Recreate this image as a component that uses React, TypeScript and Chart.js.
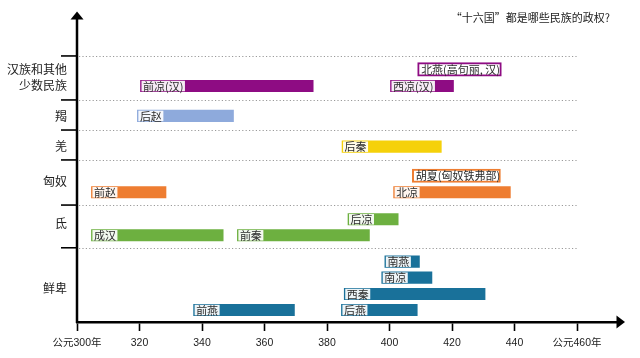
import React, { useEffect, useRef } from "react";
import { Chart, registerables } from "chart.js";

Chart.register(...registerables);

// ---- data ----
const titleText = "“十六国”都是哪些民族的政权?";
const groupNames = ["汉族和其他\n少数民族", "羯", "羌", "匈奴", "氐", "鲜卑"];
const groupLabelPos = [15.28, 12.88, 10.97, 8.77, 6.17, 2.11];
const groupBoundaries = [16.63, 13.88, 12.0, 10.13, 7.31, 4.64];
const groupColors = ["#8E0C83", "#8EAADC", "#F5D10A", "#EE7D31", "#6DB040", "#19719A"];

const stateNames = [
  "北燕(高句丽, 汉)", "前凉(汉)", "西凉(汉)", "后赵", "后秦", "胡夏(匈奴铁弗部)",
  "前赵", "北凉", "后凉", "成汉", "前秦", "南燕", "南凉", "西秦", "后燕", "前燕",
];
const stateStart = [409, 320, 400, 319, 384.5, 407.3, 304.3, 401, 386.4, 304.3, 351, 398.2, 397.2, 385.2, 384.3, 337];
const stateEnd = [435.8, 375.9, 420.8, 350.4, 416.9, 435.5, 328.8, 439, 403.1, 347.1, 393.9, 409.9, 413.9, 430.9, 409.2, 369.9];
const stateLane = [15.79, 14.75, 14.75, 12.88, 10.96, 9.14, 8.11, 8.11, 6.42, 5.42, 5.42, 3.77, 2.77, 1.75, 0.75, 0.75];
const stateGroup = [0, 0, 0, 1, 2, 3, 3, 3, 4, 4, 4, 5, 5, 5, 5, 5];
const outlinedStates = [0, 5];

const xTickValues = [300, 320, 340, 360, 380, 400, 420, 440, 460];
const xTickLabels = ["公元300年", "320", "340", "360", "380", "400", "420", "440", "公元460年"];

const CJK = '"Noto Sans CJK SC", "Liberation Sans", sans-serif';
const NUMF = '"Liberation Sans", "Noto Sans CJK SC", sans-serif';

const decorPlugin = {
  id: "decor",
  beforeDatasetsDraw(chart: any) {
    const { ctx, chartArea } = chart;
    const xs = chart.scales.x;
    const ys = chart.scales.y;
    ctx.save();
    ctx.strokeStyle = "#9a9a9a";
    ctx.lineWidth = 1;
    ctx.setLineDash([1.2, 2.2]);
    const xEnd = xs.getPixelForValue(xTickValues[xTickValues.length - 1]);
    groupBoundaries.forEach((b) => {
      const y = Math.round(ys.getPixelForValue(b)) + 0.5;
      ctx.beginPath();
      ctx.moveTo(chartArea.left + 2, y);
      ctx.lineTo(xEnd, y);
      ctx.stroke();
    });
    ctx.restore();
  },
  afterDatasetsDraw(chart: any) {
    const { ctx } = chart;
    const meta = chart.getDatasetMeta(0);
    ctx.save();
    ctx.font = `11px ${CJK}`;
    ctx.textBaseline = "middle";
    ctx.textAlign = "left";
    meta.data.forEach((el: any, i: number) => {
      const p = el.getProps(["x", "y", "base", "height"], true);
      const left = Math.min(p.x, p.base);
      const tw = ctx.measureText(stateNames[i]).width;
      if (!outlinedStates.includes(i)) {
        ctx.fillStyle = "rgba(255,255,255,0.92)";
        ctx.fillRect(left + 2, p.y - p.height / 2 + 1.5, tw + 3, p.height - 3);
      }
      ctx.fillStyle = "#2a2a2a";
      ctx.fillText(stateNames[i], left + 3.5, p.y + 0.5);
    });
    ctx.restore();
  },
  afterDraw(chart: any) {
    const { ctx, chartArea } = chart;
    const ys = chart.scales.y;
    const L = chartArea.left;
    const T = chartArea.top;
    const B = chartArea.bottom;
    const R = chartArea.right;
    ctx.save();
    // y axis
    ctx.strokeStyle = "#000";
    ctx.fillStyle = "#000";
    ctx.lineWidth = 2.5;
    ctx.beginPath();
    ctx.moveTo(L, B + 1);
    ctx.lineTo(L, T);
    ctx.stroke();
    ctx.beginPath();
    ctx.moveTo(L, T - 7.5);
    ctx.lineTo(L - 6.5, T + 0.5);
    ctx.lineTo(L + 6.5, T + 0.5);
    ctx.closePath();
    ctx.fill();
    // x arrow
    ctx.beginPath();
    ctx.moveTo(R + 8, B);
    ctx.lineTo(R - 0.5, B - 6.5);
    ctx.lineTo(R - 0.5, B + 6.5);
    ctx.closePath();
    ctx.fill();
    // y tick marks
    ctx.lineWidth = 1.6;
    groupBoundaries.forEach((b) => {
      const y = ys.getPixelForValue(b);
      ctx.beginPath();
      ctx.moveTo(L - 16, y);
      ctx.lineTo(L, y);
      ctx.stroke();
    });
    // group labels
    ctx.font = `12px ${CJK}`;
    ctx.fillStyle = "#222";
    ctx.textAlign = "right";
    ctx.textBaseline = "middle";
    groupNames.forEach((n, i) => {
      const lines = n.split("\n");
      const cy = ys.getPixelForValue(groupLabelPos[i]);
      const lh = 16.5;
      lines.forEach((ln, j) => {
        ctx.fillText(ln, L - 10, cy + (j - (lines.length - 1) / 2) * lh);
      });
    });
    // title
    ctx.font = `11px ${CJK}`;
    ctx.fillStyle = "#222";
    ctx.textAlign = "right";
    ctx.fillText(titleText, 610, 18);
    ctx.restore();
  },
};

export default function App() {
  const ref = useRef<HTMLCanvasElement | null>(null);
  useEffect(() => {
    if (!ref.current) return;
    const bg = stateGroup.map((g, i) => (outlinedStates.includes(i) ? "#ffffff" : groupColors[g]));
    const bc = stateGroup.map((g, i) => (outlinedStates.includes(i) ? groupColors[g] : "rgba(255,255,255,0.6)"));
    const bw = stateGroup.map((g, i) => (outlinedStates.includes(i) ? 2 : 1));
    const chart = new Chart(ref.current, {
      type: "bar",
      data: {
        datasets: [
          {
            data: stateNames.map((_, i) => ({ x: [stateStart[i], stateEnd[i]], y: stateLane[i] })) as any,
            backgroundColor: bg,
            borderColor: bc,
            borderWidth: bw,
            borderSkipped: false,
            barThickness: 13.5,
          },
        ],
      },
      plugins: [decorPlugin],
      options: {
        indexAxis: "y",
        responsive: false,
        animation: false,
        events: [],
        layout: { padding: { left: 77, right: 23, top: 19, bottom: 0 } },
        plugins: { legend: { display: false }, tooltip: { enabled: false }, title: { display: false } },
        scales: {
          y: { type: "linear", min: 0, max: 18.94, display: false, offset: false, grid: { offset: false } },
          x: {
            type: "linear",
            min: 300,
            max: 472.8,
            offset: false,
            afterBuildTicks: (s: any) => {
              s.ticks = xTickValues.map((v) => ({ value: v }));
            },
            afterFit: (s: any) => {
              s.height = 36;
            },
            ticks: {
              autoSkip: false,
              maxRotation: 0,
              padding: 6,
              color: "#222",
              font: { size: 10.5, family: NUMF },
              callback: (_v: any, i: number) => xTickLabels[i],
            },
            grid: {
              display: true,
              drawOnChartArea: false,
              drawTicks: true,
              tickLength: 9,
              tickColor: "#000",
              tickWidth: 1.6,
            },
            border: { display: true, color: "#000", width: 2.5 },
          },
        },
      } as any,
    });
    return () => chart.destroy();
  }, []);
  return (
    <div style={{ position: "absolute", left: 0, top: 0, width: 640, height: 358, background: "#fff" }}>
      <canvas ref={ref} width={640} height={358} style={{ display: "block" }} />
    </div>
  );
}
